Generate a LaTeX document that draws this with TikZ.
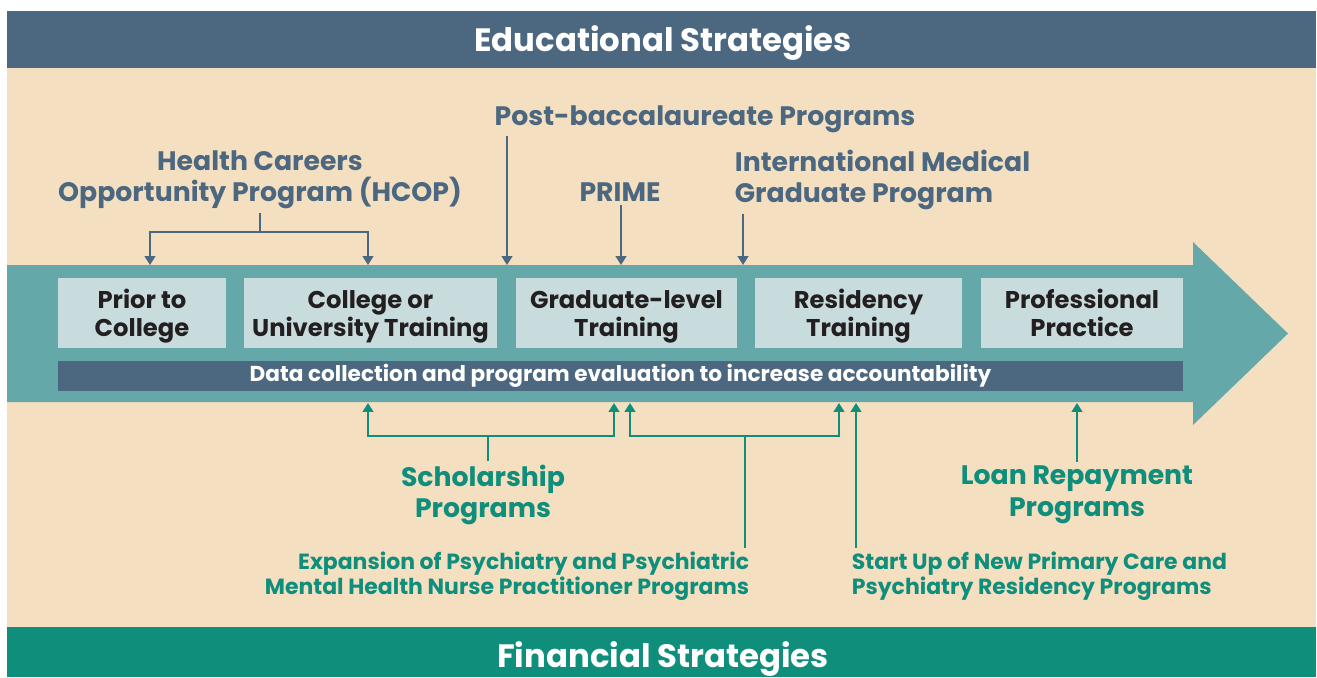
\documentclass[tikz,border=0pt]{standalone}
\usepackage{fontspec}
\setmainfont{Poppins}
\usepackage{tikz}
\usetikzlibrary{arrows.meta,positioning}

\definecolor{slate}{HTML}{4C6780}
\definecolor{beige}{HTML}{F5DFC1}
\definecolor{pipe}{HTML}{64A8A9}
\definecolor{stagefill}{HTML}{C8DCDD}
\definecolor{stagetext}{HTML}{231F20}
\definecolor{fingreen}{HTML}{0E8E7B}

% struts so every stage box sets its two lines at the same height
\newcommand{\topstrut}{\rule{0pt}{14.6pt}}
\newcommand{\botstrut}{\rule[-4pt]{0pt}{0pt}}

\tikzset{
  band/.style={text=white, font=\bfseries\fontsize{18.4}{20}\selectfont},
  stagebox/.style={fill=stagefill, text=stagetext, align=center, inner sep=0pt,
    minimum height=1.4cm, font=\bfseries\fontsize{13.8}{15.9}\selectfont},
  edulabel/.style={text=slate, align=center, inner sep=2pt,
    font=\bfseries\fontsize{15.2}{17.6}\selectfont},
  finlabel/.style={text=fingreen, align=center, inner sep=2pt,
    font=\bfseries\fontsize{15.2}{18.1}\selectfont},
  finsmall/.style={text=fingreen, inner sep=2pt,
    font=\bfseries\fontsize{12.5}{14.2}\selectfont},
  eduline/.style={draw=slate, line width=1.1pt},
  eduarrow/.style={eduline, -{Triangle[width=6pt,length=5pt]}},
  finline/.style={draw=fingreen, line width=1.1pt},
  finarrow/.style={finline, -{Triangle[width=6pt,length=5pt]}},
}

\begin{document}
\begin{tikzpicture}[x=0.02cm, y=-0.02cm]
\useasboundingbox (0,0) rectangle (1317,677);
% background and bands
\fill[beige] (7,68) rectangle (1316,627);
\fill[slate] (7,11) rectangle (1316,68);
\fill[fingreen] (7,627) rectangle (1316,677);
\node[band] (edu) at (663,43) {Educational Strategies};
\node[band] (fin) at (663,659) {Financial Strategies};

% pipeline arrow
\fill[pipe] (7,265) -- (1193,265) -- (1193,242) -- (1288,333.5)
  -- (1193,425) -- (1193,402) -- (7,402) -- cycle;

% stages
\node[stagebox, minimum width=3.36cm] (prior) at (142,313) {\topstrut Prior to\\College\botstrut};
\node[stagebox, minimum width=5.06cm] (college) at (370.5,313) {\topstrut College or\\University Training\botstrut};
\node[stagebox, minimum width=4.42cm] (grad) at (626.5,313) {\topstrut Graduate-level\\Training\botstrut};
\node[stagebox, minimum width=4.14cm] (resid) at (858.5,313) {\topstrut Residency\\Training\botstrut};
\node[stagebox, minimum width=4.04cm] (prof) at (1082,313) {\topstrut Professional\\Practice\botstrut};
\node[fill=slate, text=white, inner sep=0pt, minimum width=22.5cm, minimum height=0.6cm,
  font=\bfseries\fontsize{12.3}{12}\selectfont] (data) at (620.5,376)
  {Data collection and program evaluation to increase accountability};

% educational strategies
\node[edulabel] (hcop) at (260,180) {Health Careers\\Opportunity Program (HCOP)};
\node[edulabel] (postbac) at (705,119) {Post-baccalaureate Programs};
\node[edulabel] (prime) at (620,192) {PRIME};
\node[edulabel, anchor=west, align=left] (img) at (731,180) {International Medical\\Graduate Program};

\coordinate (hcopfork) at (260,232);
\coordinate (inprior) at (150,265);
\coordinate (incollege) at (368,265);
\coordinate (inpost) at (507,265);
\coordinate (inprime) at (621,265);
\coordinate (inimg) at (743,265);
\draw[eduline] (hcop.south -| hcopfork) -- (hcopfork);
\draw[eduarrow] (hcopfork) -| (inprior);
\draw[eduarrow] (hcopfork) -| (incollege);
\draw[eduarrow] (postbac.south -| inpost) -- (inpost);
\draw[eduarrow] (prime.south -| inprime) -- (inprime);
\draw[eduarrow] (img.south -| inimg) -- (inimg);

% financial strategies
\node[finlabel] (scholar) at (483,495) {Scholarship\\Programs};
\node[finlabel] (loan) at (1077,495) {Loan Repayment\\Programs};
\node[finsmall, anchor=east, align=right] (expand) at (753,576)
  {Expansion of Psychiatry and Psychiatric\\Mental Health Nurse Practitioner Programs};
\node[finsmall, anchor=west, align=left] (startup) at (848,576)
  {Start Up of New Primary Care and\\Psychiatry Residency Programs};

\coordinate (schfork) at (488,436);
\coordinate (expfork) at (745,436);
\coordinate (outcollege) at (368,403);
\coordinate (outgrad) at (614,403);
\coordinate (outgradb) at (630,403);
\coordinate (outresid) at (839,403);
\coordinate (outstart) at (856,403);
\coordinate (outloan) at (1077,403);
\draw[finline] (scholar.north -| schfork) -- (schfork);
\draw[finarrow] (schfork) -| (outcollege);
\draw[finarrow] (schfork) -| (outgrad);
\draw[finline] (expand.north -| expfork) -- (expfork);
\draw[finarrow] (expfork) -| (outgradb);
\draw[finarrow] (expfork) -| (outresid);
\draw[finarrow] (startup.north -| outstart) -- (outstart);
\draw[finarrow] (loan.north -| outloan) -- (outloan);
\end{tikzpicture}
\end{document}
